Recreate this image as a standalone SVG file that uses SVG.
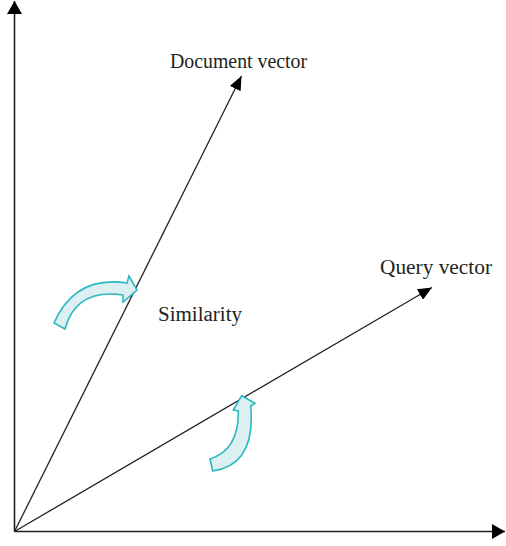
<svg xmlns="http://www.w3.org/2000/svg" width="506" height="546" viewBox="0 0 506 546">
<style>
.ln{stroke:#231f20;stroke-width:1.3;fill:none}
.ax{stroke:#231f20;stroke-width:1.6;fill:none}
.cv{fill:#dcf0f2;stroke:#2bb8c1;stroke-width:1.6;stroke-linejoin:miter}
text{font-family:"Liberation Serif",serif;font-size:20px;fill:#231f20}
</style>
<defs>
<marker id="ah" markerUnits="userSpaceOnUse" viewBox="0 0 14 12" refX="14" refY="6" markerWidth="14" markerHeight="12" orient="auto">
<path d="M0,0 L14,6 L0,12 z" fill="#000"/>
</marker>
<marker id="aa" markerUnits="userSpaceOnUse" viewBox="0 0 13 15" refX="13" refY="7.5" markerWidth="13" markerHeight="15" orient="auto">
<path d="M0,0 L13,7.5 L0,15 z" fill="#000"/>
</marker>
</defs>
<g id="connectors">
<line id="y-axis" class="ax" x1="14.5" y1="531.5" x2="14.5" y2="1" marker-end="url(#aa)"/>
<line id="x-axis" class="ax" x1="14.5" y1="531.5" x2="505" y2="531.5" marker-end="url(#aa)"/>
<line id="doc-vec" class="ln" x1="14.5" y1="531.5" x2="241.5" y2="76" marker-end="url(#ah)"/>
<line id="query-vec" class="ln" x1="14.5" y1="531.5" x2="432" y2="287.5" marker-end="url(#ah)"/>
</g>
<g id="arrow-top">
<path class="cv" d="M54,323 Q75,275 127,283 L129,276 L137,290 L123,302 L123,295 Q76,288 65,329 Z"/>
</g>
<g id="arrow-bottom">
<path class="cv" d="M212.7,471 Q256,465 250.7,406 L255,403.3 L241.7,395.7 L233.3,410 L238.3,411 Q239,450 210,459 Z"/>
</g>
<g id="label-doc"><text x="170" y="67.5" textLength="137" lengthAdjust="spacingAndGlyphs">Document vector</text></g>
<g id="label-query"><text x="380" y="273.5" textLength="112" lengthAdjust="spacingAndGlyphs">Query vector</text></g>
<g id="label-sim"><text x="158" y="320.5" textLength="84" lengthAdjust="spacingAndGlyphs">Similarity</text></g>
</svg>
